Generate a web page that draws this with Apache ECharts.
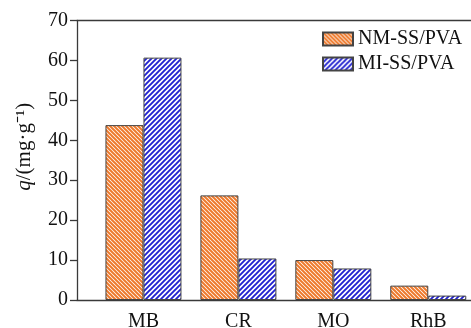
<!DOCTYPE html>
<html>
<head>
<meta charset="utf-8">
<script src="https://cdn.jsdelivr.net/npm/echarts@6/dist/echarts.min.js"></script>
<style>html,body{margin:0;padding:0;background:#fff;}#c{width:471px;height:328px;}</style>
</head>
<body>
<div id="c"></div>
<script>
const categories = ['MB', 'CR', 'MO', 'RhB'];
const seriesNames = ['NM-SS/PVA', 'MI-SS/PVA'];
const nmValues = [43.8, 26.2, 10.0, 3.6];
const miValues = [60.7, 10.4, 7.9, 1.1];
const yTicks = [0, 10, 20, 30, 40, 50, 60, 70];

function hatch(size, lineColor, width, dir) {
  const cv = document.createElement('canvas');
  cv.width = size; cv.height = size;
  const ctx = cv.getContext('2d');
  ctx.fillStyle = '#ffffff';
  ctx.fillRect(0, 0, size, size);
  ctx.strokeStyle = lineColor;
  ctx.lineWidth = width;
  ctx.beginPath();
  for (let k = -1; k <= 1; k++) {
    if (dir === 'back') {
      ctx.moveTo(-1 + k * size, -1);
      ctx.lineTo(size + 1 + k * size, size + 1);
    } else {
      ctx.moveTo(-1 + k * size, size + 1);
      ctx.lineTo(size + 1 + k * size, -1);
    }
  }
  ctx.stroke();
  return cv;
}
const orangePat = { image: hatch(4, '#ee7a2c', 2.0, 'back'), repeat: 'repeat' };
const bluePat = { image: hatch(5, '#2222d0', 1.9, 'fwd'), repeat: 'repeat' };

const font = '"Liberation Serif", "Times New Roman", serif';
const axisColor = '#3a3a3a';
const chart = echarts.init(document.getElementById('c'), null, { renderer: 'canvas' });
chart.setOption({
  animation: false,
  backgroundColor: '#ffffff',
  grid: { left: 77, top: 20.5, bottom: 28, right: 0, show: false, containLabel: false, outerBoundsMode: 'none' },
  legend: {
    left: 322, top: 29, orient: 'vertical', itemWidth: 30, itemHeight: 13, itemGap: 5,
    icon: 'rect', padding: 0,
    textStyle: { fontFamily: font, fontSize: 20, color: '#111' },
    data: seriesNames
  },
  xAxis: [{
    type: 'value', min: -0.7, max: 3.45,
    axisLine: { show: true, onZero: false, lineStyle: { color: axisColor, width: 1.3 } },
    axisTick: { show: false },
    splitLine: { show: false },
    axisLabel: {
      customValues: [0, 1, 2, 3],
      formatter: v => categories[Math.round(v)] || '',
      fontFamily: font, fontSize: 20, color: '#111', margin: 12
    }
  }, {
    type: 'value', position: 'top', min: -0.7, max: 3.45,
    axisLine: { show: true, onZero: false, lineStyle: { color: axisColor, width: 1.3 } },
    axisTick: { show: false }, axisLabel: { show: false }, splitLine: { show: false }
  }],
  yAxis: {
    type: 'value', min: 0, max: 70, interval: 10,
    name: '{i|q}/(mg·g⁻¹)', nameLocation: 'middle', nameRotate: 90, nameGap: 42,
    nameTextStyle: { fontFamily: font, fontSize: 21, color: '#111', padding: [0, 0, 0, 27],
      rich: { i: { fontFamily: font, fontSize: 21, fontStyle: 'italic', color: '#111' } } },
    axisLine: { show: true, onZero: false, lineStyle: { color: axisColor, width: 1.3 } },
    axisTick: { show: true, inside: false, length: 7, lineStyle: { color: axisColor, width: 1.3 } },
    splitLine: { show: false },
    axisLabel: { fontFamily: font, fontSize: 20, color: '#111', margin: 9,
      formatter: v => yTicks.includes(v) ? String(v) : '' }
  },
  series: [
    {
      name: seriesNames[0], type: 'bar', barWidth: 38, barGap: '0%',
      itemStyle: { color: orangePat, borderColor: '#444', borderWidth: 1 },
      data: nmValues.map((v, i) => [i, v])
    },
    {
      name: seriesNames[1], type: 'bar', barWidth: 38, barGap: '0%',
      itemStyle: { color: bluePat, borderColor: '#444', borderWidth: 1 },
      data: miValues.map((v, i) => [i, v])
    }
  ]
});
</script>
</body>
</html>
